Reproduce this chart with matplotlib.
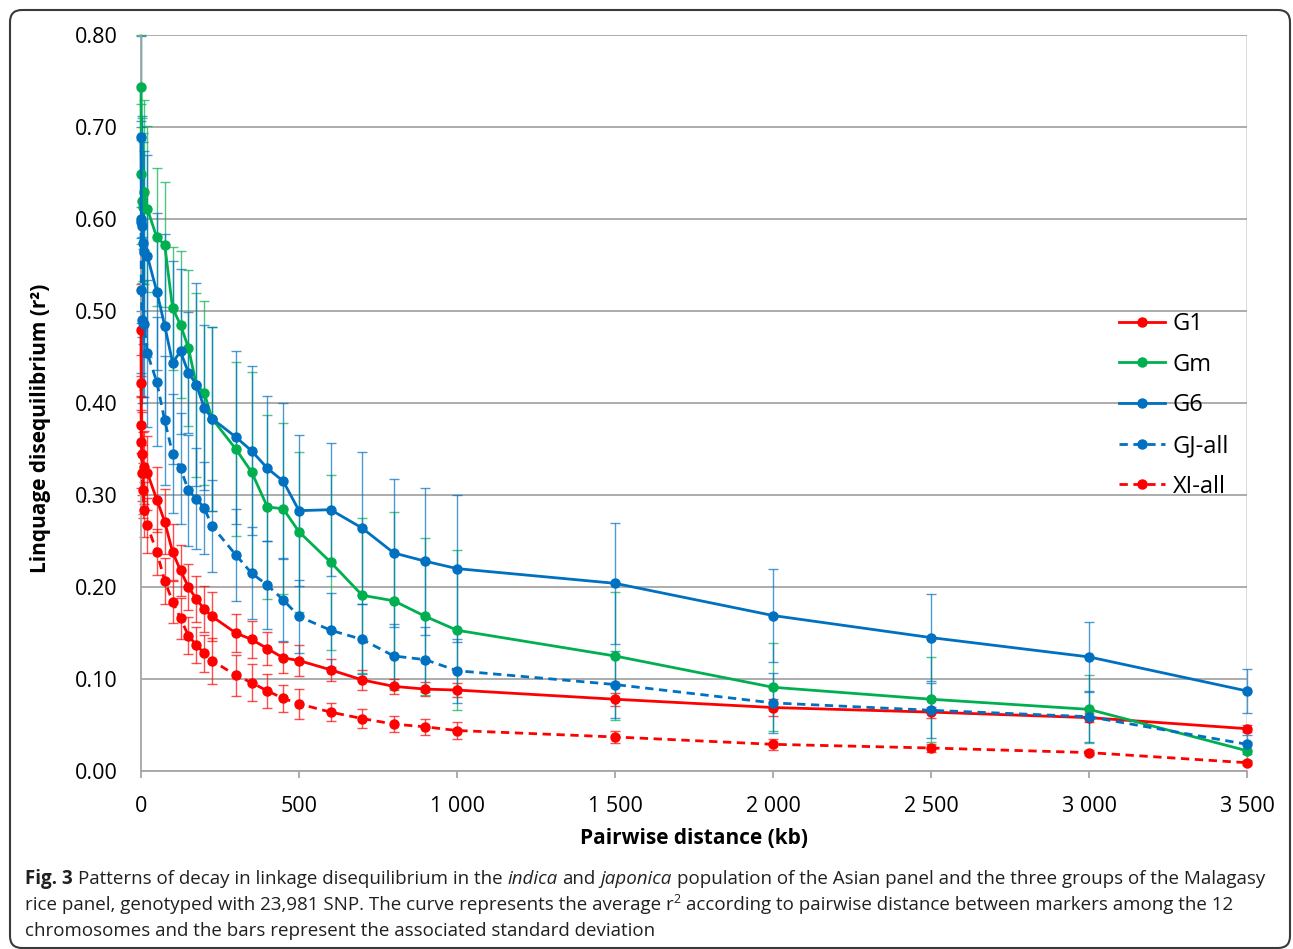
import matplotlib
matplotlib.use("Agg")
import matplotlib.pyplot as plt
from matplotlib.patches import FancyBboxPatch
from matplotlib.ticker import FuncFormatter

# pairwise distance (kb)
dist = [0, 1, 3, 6, 10, 20, 50, 75, 100, 125, 150, 175, 200, 225, 300, 350, 400, 450,
        500, 600, 700, 800, 900, 1000, 1500, 2000, 2500, 3000, 3500]

# mean r2 per group
g1 = [0.479, 0.358, 0.345, 0.324, 0.330, 0.324, 0.295, 0.271, 0.238, 0.218, 0.200, 0.187,
      0.176, 0.168, 0.150, 0.143, 0.133, 0.123, 0.120, 0.110, 0.099, 0.092, 0.089, 0.088,
      0.078, 0.069, 0.064, 0.058, 0.046]
gm = [0.743, 0.649, 0.620, 0.613, 0.629, 0.611, 0.580, 0.572, 0.503, 0.485, 0.460, 0.420,
      0.411, 0.383, 0.350, 0.325, 0.287, 0.285, 0.260, 0.227, 0.191, 0.185, 0.168, 0.153,
      0.125, 0.091, 0.078, 0.067, 0.022]
g6 = [0.689, 0.597, 0.592, 0.574, 0.564, 0.560, 0.521, 0.484, 0.444, 0.456, 0.433, 0.420,
      0.395, 0.383, 0.363, 0.348, 0.329, 0.315, 0.283, 0.284, 0.264, 0.237, 0.228, 0.220,
      0.204, 0.169, 0.145, 0.124, 0.087]
gj_all = [0.600, 0.523, 0.490, 0.487, 0.486, 0.454, 0.423, 0.381, 0.345, 0.329, 0.305, 0.296,
          0.286, 0.266, 0.235, 0.215, 0.202, 0.186, 0.168, 0.153, 0.143, 0.125, 0.121, 0.109,
          0.094, 0.074, 0.066, 0.059, 0.029]
xi_all = [0.422, 0.376, 0.324, 0.305, 0.284, 0.267, 0.238, 0.207, 0.184, 0.166, 0.147, 0.137,
          0.128, 0.120, 0.104, 0.096, 0.087, 0.079, 0.073, 0.064, 0.057, 0.051, 0.048, 0.044,
          0.037, 0.029, 0.025, 0.020, 0.009]

# standard deviations
g1_sd = [0.05, 0.05, 0.045, 0.045, 0.04, 0.04, 0.035, 0.035, 0.03, 0.028, 0.025, 0.025,
         0.025, 0.027, 0.021, 0.02, 0.018, 0.017, 0.017, 0.012, 0.011, 0.008, 0.008, 0.008,
         0.007, 0.009, 0.006, 0.005, 0.004]
gm_sd = [0.057, 0.076, 0.09, 0.08, 0.1, 0.09, 0.075, 0.068, 0.067, 0.08, 0.085, 0.1,
         0.1, 0.1, 0.095, 0.109, 0.10, 0.093, 0.087, 0.095, 0.084, 0.097, 0.085, 0.087,
         0.07, 0.048, 0.046, 0.037, 0.01]
g6_sd = [0.11, 0.11, 0.12, 0.11, 0.11, 0.11, 0.085, 0.1, 0.11, 0.09, 0.066, 0.11,
         0.09, 0.1, 0.094, 0.092, 0.079, 0.085, 0.082, 0.072, 0.083, 0.08, 0.08, 0.08,
         0.066, 0.051, 0.047, 0.038, 0.024]
gj_sd = [0.1, 0.09, 0.09, 0.08, 0.08, 0.08, 0.07, 0.07, 0.065, 0.06, 0.06, 0.055,
         0.05, 0.05, 0.05, 0.05, 0.048, 0.045, 0.04, 0.04, 0.038, 0.035, 0.035, 0.035,
         0.036, 0.033, 0.03, 0.028, 0.01]
xi_sd = [0.03, 0.03, 0.03, 0.03, 0.03, 0.03, 0.025, 0.025, 0.023, 0.022, 0.02, 0.02,
         0.02, 0.025, 0.022, 0.02, 0.018, 0.015, 0.016, 0.01, 0.01, 0.009, 0.009, 0.009,
         0.007, 0.006, 0.004, 0.003, 0.002]

labels = ["G1", "Gm", "G6", "GJ-all", "XI-all"]

RED, GREEN, BLUE = "#FF0000", "#00B050", "#0070C0"
FONT = "Open Sans"

series = [
    (g1, g1_sd, RED, "-"),
    (gm, gm_sd, GREEN, "-"),
    (g6, g6_sd, BLUE, "-"),
    (gj_all, gj_sd, BLUE, (0, (3, 2))),
    (xi_all, xi_sd, RED, (0, (3, 2))),
]

W, H = 1293, 949
fig = plt.figure(figsize=(W / 100, H / 100), dpi=100)
ax = fig.add_axes([141 / W, 1 - 771 / H, (1247 - 141) / W, (771 - 35) / H])

# error bars first, lines on top
for y, sd, col, ls in series:
    eb = ax.errorbar(dist, y, yerr=sd, fmt="none", ecolor=col, elinewidth=1.0,
                     capsize=3.5, capthick=1.0, alpha=0.7, zorder=2)
    for art in eb.get_children():
        art.set_clip_on(False)

for (y, sd, col, ls), lab in zip(series, labels):
    ax.plot(dist, y, color=col, linestyle=ls, linewidth=2.0, marker="o", markersize=6.5,
            label=lab, zorder=3, clip_on=False)

ax.set_xlim(0, 3500)
ax.set_ylim(0, 0.80)
ax.set_yticks([i / 10 for i in range(9)])
ax.set_xticks(range(0, 3501, 500))
ax.yaxis.set_major_formatter(FuncFormatter(lambda v, p: f"{v:.2f}"))
ax.xaxis.set_major_formatter(FuncFormatter(lambda v, p: f"{int(v):,}".replace(",", " ")))

ax.grid(axis="y", color="#A6A6A6", linewidth=1.3, zorder=0)
for s in ["top", "right"]:
    ax.spines[s].set_visible(False)
ax.axvline(3500, color="#D9D9D9", linewidth=1.3, zorder=0)
ax.spines["left"].set_color("#A6A6A6")
ax.spines["bottom"].set_color("#A6A6A6")
ax.spines["left"].set_linewidth(1.3)
ax.spines["bottom"].set_linewidth(1.3)
ax.tick_params(axis="y", length=0, pad=17, labelsize=15.5)
ax.tick_params(axis="x", length=5, width=1.3, color="#A6A6A6", pad=13, labelsize=15.5)
for t in ax.get_xticklabels() + ax.get_yticklabels():
    t.set_family(FONT)
    t.set_color("#000000")

ax.set_xlabel("Pairwise distance (kb)", fontsize=15, fontweight="bold", family=FONT,
              labelpad=8)
ax.set_ylabel("Linquage disequilibrium (r²)", fontsize=15, fontweight="bold", family=FONT)
ax.yaxis.set_label_coords((51 - 141) / (1247 - 141), (771 - 428) / (771 - 35))

leg = ax.legend(loc="upper left", bbox_to_anchor=(1119 / W, 1 - 312 / H),
                bbox_transform=fig.transFigure, frameon=False, prop={"family": FONT, "size": 17},
                handlelength=1.95, handletextpad=0.32, labelspacing=0.705, borderpad=0,
                borderaxespad=0)

# caption
fig.canvas.draw()
rend = fig.canvas.get_renderer()
CAP = 13.5
CAPCOL = "#231F20"


def text_w(s, **kw):
    t = fig.text(0, 0, s, fontsize=kw.pop("size", CAP), family=FONT, **kw)
    w = t.get_window_extent(renderer=rend).width
    t.remove()
    return w


space = text_w("x x") - text_w("xx")


def draw_line(x_px, y_px, runs):
    x = x_px
    for s, kw in runs:
        if s == " ":
            x += space
            continue
        size = kw.pop("size", CAP)
        dy = kw.pop("dy", 0)
        t = fig.text(x / W, 1 - (y_px - dy) / H, s, fontsize=size, family=FONT,
                     color=CAPCOL, va="baseline", ha="left", **kw)
        x += t.get_window_extent(renderer=rend).width


draw_line(25, 884, [
    ("Fig. 3", {"fontweight": "bold"}), (" ", {}),
    ("Patterns of decay in linkage disequilibrium in the", {}), (" ", {}),
    ("indica", {"style": "italic"}), (" ", {}), ("and", {}), (" ", {}),
    ("japonica", {"style": "italic"}), (" ", {}),
    ("population of the Asian panel and the three groups of the Malagasy", {}),
])
draw_line(25, 910, [
    ("rice panel, genotyped with 23,981 SNP. The curve represents the average r", {}),
    ("2", {"size": 9, "dy": 7}), (" ", {}),
    ("according to pairwise distance between markers among the 12", {}),
])
draw_line(25, 936, [
    ("chromosomes and the bars represent the associated standard deviation", {}),
])

frame = FancyBboxPatch((0.10, 0.01), 12.80, 9.38, boxstyle="round,pad=0,rounding_size=0.12",
                       transform=fig.dpi_scale_trans, facecolor="none", edgecolor="#3A3A3A",
                       linewidth=1.5)
fig.patches.append(frame)

fig.savefig("out.png", dpi=100)
